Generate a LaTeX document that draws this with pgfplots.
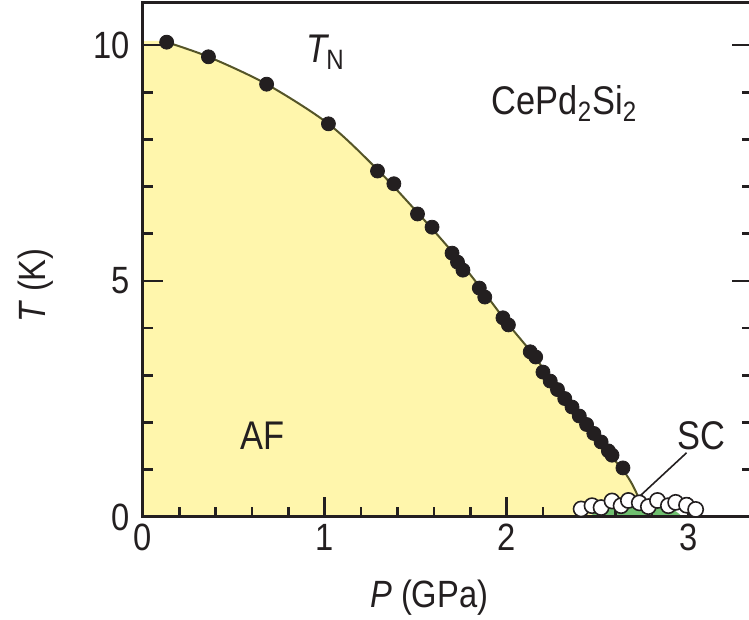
\documentclass[border=0pt]{standalone}
\usepackage{fontspec}
\setmainfont{Liberation Sans}[FakeStretch=0.86]
\usepackage{pgfplots}
\pgfplotsset{compat=1.18}
\definecolor{afyellow}{RGB}{255,246,172}
\definecolor{scgreen}{RGB}{112,192,112}
\definecolor{tnline}{RGB}{85,85,40}
\definecolor{dotblack}{RGB}{35,31,32}
\begin{document}
\begin{tikzpicture}
\begin{axis}[
  name=ax,
  scale only axis,
  axis on top,
  width=304.5pt, height=257pt,
  xmin=0, xmax=3.35, ymin=0, ymax=10.89,
  xtick={0,1,2,3}, ytick={0,5,10},
  minor x tick num=4, minor y tick num=4,
  xtick pos=left, ytick pos=both,
  tick align=inside,
  major tick length=10pt, minor tick length=5pt,
  axis line style={line width=1.5pt, color=dotblack},
  every tick/.style={line width=1.3pt, color=dotblack},
  ticklabel style={font=\fontsize{19}{22}\selectfont, text=dotblack},
  yticklabel style={xshift=-3pt},
  /pgf/number format/assume math mode=true,
  xlabel={\textit{P} (GPa)}, ylabel={\textit{T} (K)},
  every axis x label/.style={at={(axis description cs:0.47,-0.156)}, anchor=center, font=\fontsize{19}{22}\selectfont, text=dotblack},
  every axis y label/.style={at={(axis description cs:-0.177,0.45)}, rotate=90, anchor=center, font=\fontsize{19}{22}\selectfont, text=dotblack},
  clip=false,
]
% AF region (yellow)
\addplot[fill=afyellow, draw=none, smooth] coordinates {
  (0,10.08) (0.13,10.06) (0.36,9.75) (0.68,9.17) (1.02,8.33) (1.29,7.36)
  (1.51,6.45) (1.70,5.62) (1.88,4.74) (2.01,4.08) (2.14,3.47) (2.30,2.62)
  (2.45,1.90) (2.57,1.31) (2.64,1.00) (2.69,0.70) (2.73,0.38) (2.74,0)
} \closedcycle;
% SC dome (green)
\addplot[fill=scgreen, draw=none, smooth] coordinates {
  (2.45,0) (2.52,0.15) (2.62,0.26) (2.72,0.30) (2.82,0.27) (2.91,0.17) (2.97,0)
} \closedcycle;
% T_N line
\addplot[tnline, line width=1pt, smooth] coordinates {
  (0.13,10.06) (0.36,9.75) (0.68,9.17) (1.02,8.33) (1.29,7.36)
  (1.51,6.45) (1.70,5.62) (1.88,4.74) (2.01,4.08) (2.14,3.47) (2.30,2.62)
  (2.45,1.90) (2.57,1.31) (2.64,1.00) (2.69,0.70) (2.73,0.38)
};
% T_N data points
\addplot[only marks, mark=*, mark size=3.5pt, mark options={fill=dotblack, draw=dotblack}] coordinates {
  (0.13,10.06) (0.36,9.75) (0.68,9.17) (1.02,8.33) (1.29,7.33) (1.38,7.06)
  (1.51,6.42) (1.59,6.14) (1.70,5.59) (1.73,5.40) (1.76,5.23) (1.85,4.85)
  (1.88,4.66) (1.98,4.22) (2.01,4.07) (2.13,3.50) (2.16,3.39) (2.20,3.07)
  (2.24,2.88) (2.28,2.70) (2.32,2.51) (2.36,2.33) (2.40,2.14) (2.44,1.96)
  (2.48,1.77) (2.52,1.59) (2.56,1.40) (2.58,1.31) (2.64,1.04)
};
% T_c data points (open)
\addplot[only marks, mark=*, mark size=3.8pt, mark options={fill=white, draw=dotblack, line width=0.8pt}] coordinates {
  (2.41,0.17) (2.47,0.24) (2.52,0.20) (2.58,0.34) (2.63,0.24)
  (2.67,0.35) (2.73,0.30) (2.78,0.22) (2.83,0.35) (2.89,0.24)
  (2.93,0.31) (2.99,0.25) (3.04,0.16)
};
% leader line for SC
\addplot[dotblack, line width=0.8pt] coordinates {(2.99,1.36) (2.71,0.36)};
\node[anchor=base west, font=\fontsize{20}{24}\selectfont, text=dotblack] at (axis cs:0.86,9.62) {\textit{T}\kern-1.5pt\textsubscript{N}};
\node[anchor=base west, font=\fontsize{20}{24}\selectfont, text=dotblack] at (axis cs:1.88,8.52) {CePd\textsubscript{2}Si\textsubscript{2}};
\node[anchor=base west, font=\fontsize{20}{24}\selectfont, text=dotblack] at (axis cs:0.50,1.42) {AF};
\node[anchor=base west, font=\fontsize{20}{24}\selectfont, text=dotblack] at (axis cs:2.90,1.42) {SC};
\end{axis}
\coordinate (BL) at ([shift={(-71.5pt,-51.5pt)}]ax.south west);
\coordinate (TR) at ([shift={(-1.5pt,1.5pt)}]ax.north east);
\pgfresetboundingbox
\path (BL) rectangle (TR);
\end{tikzpicture}
\end{document}
